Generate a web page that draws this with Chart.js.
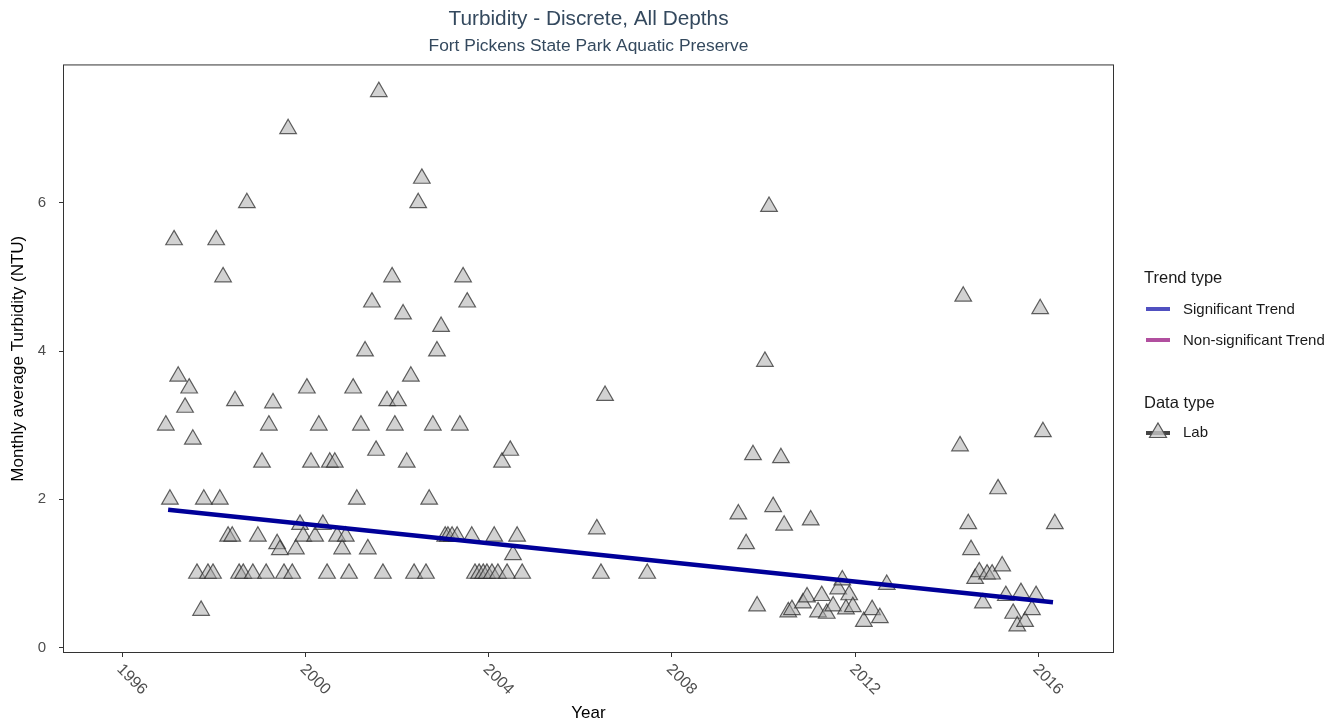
<!DOCTYPE html>
<html>
<head>
<meta charset="utf-8">
<title>Turbidity - Discrete, All Depths</title>
<script src="https://cdn.jsdelivr.net/npm/chart.js@4.4.1/dist/chart.umd.min.js"></script>
<style>
  html, body { margin: 0; padding: 0; background: #fff; }
  #wrap { position: relative; width: 1343px; height: 728px; font-family: "Liberation Sans", Arial, sans-serif; }
  #chart { position: absolute; left: 0; top: 0; }
  .lg { position: absolute; white-space: nowrap; color: #1a1a1a; height: 20px; line-height: 20px; }
  .lg-title { left: 1144px; font-size: 16.5px; }
  .lg-label { left: 1183px; font-size: 15px; }
  .lg-key { position: absolute; left: 1144px; }
</style>
</head>
<body>
<div id="wrap">
  <canvas id="chart" width="1343" height="728"></canvas>

  <div class="lg lg-title" style="top:267px">Trend type</div>
  <svg class="lg-key" style="top:299px" width="28" height="20"><line x1="2" y1="10" x2="26" y2="10" stroke="#5050c0" stroke-width="4"/></svg>
  <div class="lg lg-label" style="top:299px">Significant Trend</div>
  <svg class="lg-key" style="top:330px" width="28" height="20"><line x1="2" y1="10" x2="26" y2="10" stroke="#b14f9f" stroke-width="4"/></svg>
  <div class="lg lg-label" style="top:330px">Non-significant Trend</div>

  <div class="lg lg-title" style="top:392px">Data type</div>
  <svg class="lg-key" style="top:420px" width="28" height="22"><line x1="2" y1="13" x2="26" y2="13" stroke="#444" stroke-width="4"/><polygon points="14,3 22.5,17.5 5.5,17.5" fill="rgba(200,200,200,0.8)" stroke="#555" stroke-width="1.2"/></svg>
  <div class="lg lg-label" style="top:422px">Lab</div>
</div>

<script>
// monthly averages, decimal year / NTU
const years = [
  1996.95, 1997.04, 1997.13, 1997.22, 1997.37, 1997.46, 1997.54, 1997.63, 1997.72, 1997.78,
  1997.87, 1997.98, 1998.05, 1998.13, 1998.20, 1998.31, 1998.40, 1998.46, 1998.55, 1998.64,
  1998.72, 1998.85, 1998.96, 1999.05, 1999.14, 1999.20, 1999.29, 1999.38, 1999.44, 1999.53,
  1999.62, 1999.71, 1999.79, 1999.88, 1999.95, 2000.03, 2000.12, 2000.21, 2000.29, 2000.38,
  2000.47, 2000.53, 2000.64, 2000.69, 2000.80, 2000.88, 2000.95, 2001.04, 2001.12, 2001.21,
  2001.30, 2001.36, 2001.45, 2001.54, 2001.60, 2001.69, 2001.78, 2001.89, 2001.95, 2002.02,
  2002.13, 2002.21, 2002.30, 2002.37, 2002.46, 2002.54, 2002.63, 2002.70, 2002.78, 2002.87,
  2002.96, 2003.05, 2003.11, 2003.20, 2003.31, 2003.37, 2003.44, 2003.53, 2003.63, 2003.70,
  2003.79, 2003.88, 2003.96, 2004.07, 2004.12, 2004.20, 2004.29, 2004.40, 2004.47, 2004.53,
  2004.62, 2004.73,
  2006.36, 2006.45, 2006.54, 2007.46,
  2009.45, 2009.62, 2009.77, 2009.86, 2010.03, 2010.12, 2010.21, 2010.38, 2010.45, 2010.54,
  2010.62, 2010.86, 2010.95, 2011.03, 2011.19, 2011.27, 2011.38, 2011.52, 2011.63, 2011.72,
  2011.80, 2011.87, 2011.95, 2012.19, 2012.37, 2012.54, 2012.69,
  2014.29, 2014.36, 2014.47, 2014.53, 2014.62, 2014.71, 2014.79, 2014.88, 2014.99, 2015.12,
  2015.21, 2015.29, 2015.45, 2015.54, 2015.62, 2015.71, 2015.86, 2015.95, 2016.04, 2016.10,
  2016.36
];
const turbidity = [
  3.0, 2.0, 5.5, 3.66, 3.24, 3.5, 2.81, 1.0, 0.5, 2.0,
  1.0, 1.0, 5.5, 2.0, 5.0, 1.5, 1.5, 3.33, 1.0, 1.0,
  6.0, 1.0, 1.5, 2.5, 1.0, 3.0, 3.3, 1.4, 1.32, 1.0,
  7.0, 1.0, 1.33, 1.66, 1.5, 3.5, 2.5, 1.5, 3.0, 1.66,
  1.0, 2.5, 2.5, 1.5, 1.33, 1.5, 1.0, 3.5, 2.0, 3.0,
  4.0, 1.33, 4.66, 2.66, 7.5, 1.0, 3.33, 5.0, 3.0, 3.33,
  4.5, 2.5, 3.66, 1.0, 6.0, 6.33, 1.0, 2.0, 3.0, 4.0,
  4.33, 1.5, 1.5, 1.5, 1.5, 3.0, 5.0, 4.66, 1.5, 1.0,
  1.0, 1.0, 1.0, 1.0, 1.5, 1.0, 2.5, 1.0, 2.66, 1.25,
  1.5, 1.0,
  1.6, 1.0, 3.4, 1.0,
  1.8, 1.4, 2.6, 0.56, 3.86, 5.95, 1.9, 2.56, 1.65, 0.48,
  0.51, 0.6, 0.68, 1.72, 0.48, 0.7, 0.46, 0.56, 0.79, 0.91,
  0.52, 0.71, 0.55, 0.35, 0.51, 0.4, 0.85,
  2.72, 4.74, 1.67, 1.32, 0.93, 1.02, 0.6, 0.99, 0.99, 2.14,
  1.1, 0.7, 0.46, 0.29, 0.74, 0.35, 0.51, 0.7, 4.57, 2.91,
  1.67
];
const trendYears = [1997.0, 2016.32];
const trendTurbidity = [1.86, 0.61];
const xTicks = [1996, 2000, 2004, 2008, 2012, 2016];
const yTicks = [0, 2, 4, 6];

const FONT = '"Liberation Sans", Arial, sans-serif';
Chart.defaults.font.family = FONT;

// ggplot style: full panel border + x labels turned 45deg clockwise
const panelPlugin = {
  id: 'panel',
  afterDraw(chart) {
    const { ctx, chartArea: a, scales: { x } } = chart;
    ctx.save();
    ctx.strokeStyle = '#333';
    ctx.lineWidth = 1;
    ctx.strokeRect(a.left - 0.5, a.top - 0.5, a.right - a.left + 1, a.bottom - a.top + 1);
    ctx.font = '16px ' + FONT;
    ctx.fillStyle = '#4d4d4d';
    ctx.textAlign = 'left';
    ctx.textBaseline = 'middle';
    x.ticks.forEach(t => {
      ctx.save();
      ctx.translate(x.getPixelForValue(t.value) - 3, x.top + 15);
      ctx.rotate(Math.PI / 4);
      ctx.fillText(String(t.value), 0, 0);
      ctx.restore();
    });
    ctx.restore();
  }
};

new Chart(document.getElementById('chart'), {
  type: 'scatter',
  data: {
    datasets: [
      {
        type: 'line',
        label: 'Significant Trend',
        data: trendYears.map((x, i) => ({ x, y: trendTurbidity[i] })),
        borderColor: '#000099',
        borderWidth: 4.5,
        pointRadius: 0,
        order: 0
      },
      {
        label: 'Lab',
        data: years.map((x, i) => ({ x, y: turbidity[i] })),
        pointStyle: 'triangle',
        pointRadius: 9.6,
        backgroundColor: 'rgba(165,165,165,0.5)',
        borderColor: 'rgba(40,40,40,0.72)',
        borderWidth: 1.2,
        order: 1
      }
    ]
  },
  options: {
    responsive: false,
    animation: false,
    layout: { padding: { left: 0, right: 230, top: 0, bottom: 0 } },
    plugins: {
      legend: { display: false },
      tooltip: { enabled: false },
      title: {
        display: true, fullSize: false,
        text: 'Turbidity - Discrete, All Depths',
        color: '#34495e',
        font: { size: 20.8, weight: 'normal' },
        padding: { top: 6.5, bottom: 4.5 }
      },
      subtitle: {
        display: true, fullSize: false,
        text: 'Fort Pickens State Park Aquatic Preserve',
        color: '#34495e',
        font: { size: 17.4 },
        padding: { top: 0, bottom: 8.6 }
      }
    },
    scales: {
      x: {
        type: 'linear',
        min: 1994.727, max: 2017.63,
        afterBuildTicks: s => { s.ticks = xTicks.map(v => ({ value: v })); },
        afterFit: s => { s.height = 76; },
        ticks: { display: false },
        grid: { display: true, drawOnChartArea: false, drawTicks: true, tickLength: 5, color: '#333' },
        border: { display: false },
        title: { display: true, text: 'Year', color: '#000', font: { size: 17 }, padding: { top: 0, bottom: 4 } }
      },
      y: {
        min: -0.06, max: 7.855,
        afterBuildTicks: s => { s.ticks = yTicks.map(v => ({ value: v })); },
        afterFit: s => { s.width = 64; },
        ticks: { color: '#4d4d4d', font: { size: 15 }, padding: 13 },
        grid: { display: true, drawOnChartArea: false, drawTicks: true, tickLength: 5, color: '#333' },
        border: { display: false },
        title: { display: true, text: 'Monthly average Turbidity (NTU)', color: '#000', font: { size: 17 }, padding: { top: 8, bottom: 0 } }
      }
    }
  },
  plugins: [panelPlugin]
});
</script>
</body>
</html>
